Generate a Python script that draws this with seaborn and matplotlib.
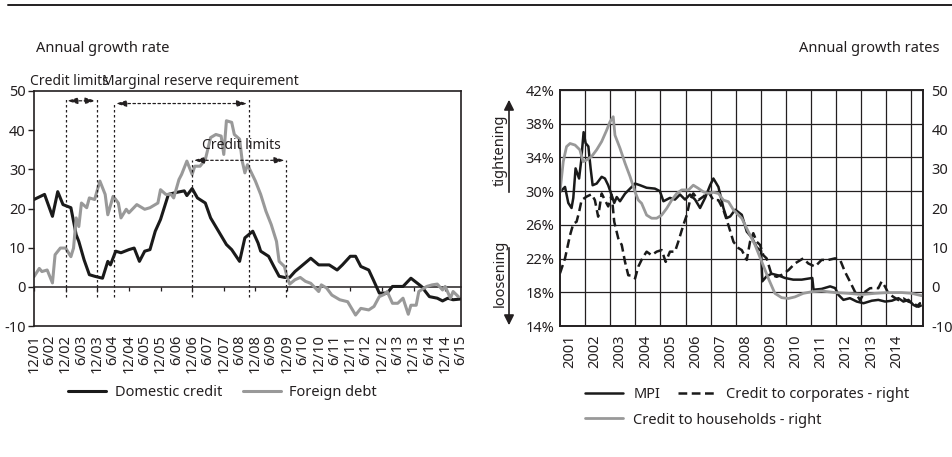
import matplotlib
matplotlib.use('Agg')
import matplotlib.pyplot as plt
from matplotlib.lines import Line2D
from matplotlib.patches import FancyArrowPatch
import seaborn as sns

# ---------------- left panel: months since Dec 2001, annual growth (%) ----------------
dc_month = [0, 4, 7, 9, 11, 14, 16, 17, 19, 21, 23, 26, 28, 29, 31, 33, 36, 38, 40, 42,
            44, 46, 48, 51, 54, 57, 58, 60, 62, 65, 67, 70, 73, 75, 78, 80, 83, 85, 86, 89,
            91, 93, 95, 97, 99, 102, 105, 108, 112, 115, 117, 120, 122, 124, 127, 129, 131,
            134, 136, 140, 143, 147, 150, 153, 155, 157, 159, 162]
dc_value = [22.3, 23.6, 18.0, 24.3, 21.0, 20.2, 13.3, 11.6, 6.9, 3.1, 2.7, 2.2, 6.5, 5.6,
            9.1, 8.7, 9.5, 9.9, 6.5, 9.1, 9.5, 14.2, 17.2, 23.6, 24.1, 24.5, 23.3, 25.1,
            22.7, 21.4, 17.6, 14.2, 10.8, 9.5, 6.5, 12.5, 14.2, 11.2, 9.1, 7.8, 5.2, 2.7,
            2.4, 2.4, 3.9, 5.6, 7.3, 5.6, 5.6, 4.3, 5.6, 7.8, 7.8, 5.2, 4.3, 1.4, -1.6,
            -1.6, 0.1, 0.1, 2.2, 0.1, -2.5, -2.9, -3.6, -2.9, -3.3, -3.1]

fd_month = [0, 2, 3, 5, 7, 8, 10, 12, 14, 15, 16, 17, 18, 20, 21, 23, 25, 27, 28, 30,
            31, 32, 33, 35, 36, 39, 42, 44, 47, 48, 50, 52, 53, 55, 56, 58, 60, 61, 63, 65,
            67, 69, 71, 72, 73, 75, 76, 78, 79, 80, 81, 84, 86, 88, 90, 92, 93, 95, 96, 97,
            99, 101, 103, 105, 108, 109, 111, 113, 116, 119, 122, 124, 127, 129, 131, 133,
            134, 136, 138, 140, 142, 143, 145, 146, 149, 151, 153, 155, 156, 158, 159, 161]
fd_value = [2.6, 4.7, 3.9, 4.3, 1.0, 8.2, 9.9, 9.9, 7.7, 9.9, 17.6, 15.4, 21.4, 20.2, 22.7,
            22.3, 27.0, 23.6, 18.4, 23.1, 22.3, 21.4, 17.6, 19.8, 18.9, 21.0, 19.8, 20.2,
            21.4, 24.8, 23.6, 23.6, 22.7, 27.4, 28.7, 32.1, 28.7, 30.8, 30.8, 32.5, 38.1,
            38.9, 38.5, 33.8, 42.4, 42.0, 38.9, 37.7, 32.1, 29.1, 31.2, 27.0, 23.6, 19.3,
            15.9, 11.6, 6.5, 5.2, 2.6, 0.7, 1.8, 2.4, 1.4, 0.9, -1.2, 0.5, -0.3, -2.1, -3.3,
            -3.8, -7.2, -5.5, -5.9, -5.0, -2.5, -1.9, -1.2, -4.2, -4.2, -2.9, -7.0, -4.7,
            -4.7, -1.2, 0.1, 0.5, 0.7, -0.8, 0.1, -2.9, -1.2, -2.5]

left_ticklabels = ['12/01', '6/02', '12/02', '6/03', '12/03', '6/04', '12/04', '6/05',
                   '12/05', '6/06', '12/06', '6/07', '12/07', '6/08', '12/08', '6/09',
                   '12/09', '6/10', '12/10', '6/11', '12/11', '6/12', '12/12', '6/13',
                   '12/13', '6/14', '12/14', '6/15']

# policy episodes (month index) and the annotation levels
policy_month = [12, 24, 30.5, 60, 81.5, 95.7]
policy_top = [48, 48, 47, 32.3, 48, 32.3]
arrow_spans = [(12, 24, 47.5), (30.5, 81.5, 46.8), (60, 95.7, 32.3)]

# ---------------- right panel: decimal years ----------------
mpi_year = [2001.0, 2001.2, 2001.33, 2001.46, 2001.53, 2001.62, 2001.76, 2001.84, 2001.94,
            2002.02, 2002.13, 2002.22, 2002.3, 2002.46, 2002.66, 2002.79, 2002.92, 2003.06,
            2003.16, 2003.26, 2003.39, 2003.59, 2003.79, 2003.99, 2004.19, 2004.45, 2004.78,
            2004.98, 2005.12, 2005.38, 2005.58, 2005.78, 2005.98, 2006.18, 2006.38, 2006.58,
            2006.78, 2006.98, 2007.11, 2007.31, 2007.51, 2007.64, 2007.78, 2007.98, 2008.24,
            2008.44, 2008.64, 2008.84, 2009.01, 2009.06, 2009.23, 2009.43, 2009.7, 2009.96,
            2010.29, 2010.63, 2011.05, 2011.1, 2011.42, 2011.76, 2011.96, 2012.09, 2012.29,
            2012.55, 2012.82, 2013.09, 2013.42, 2013.68, 2013.95, 2014.22, 2014.48, 2014.68,
            2014.88, 2015.08, 2015.21, 2015.34]
mpi_value = [29.9, 30.5, 28.6, 28.0, 29.2, 32.7, 31.5, 33.5, 37.0, 35.7, 35.3, 32.7, 30.7,
             30.9, 31.7, 31.5, 30.7, 29.5, 28.6, 29.3, 28.8, 29.7, 30.3, 30.9, 30.7, 30.4,
             30.3, 30.0, 28.8, 29.2, 29.0, 29.6, 29.0, 29.6, 29.0, 28.0, 29.2, 30.7, 31.5,
             30.5, 28.0, 26.8, 27.0, 27.8, 27.2, 25.2, 24.5, 23.3, 22.9, 19.3, 19.9, 20.2,
             20.0, 19.7, 19.5, 19.5, 19.7, 18.3, 18.4, 18.7, 18.5, 17.7, 17.1, 17.3, 16.9,
             16.7, 17.0, 17.1, 16.9, 17.0, 17.3, 16.9, 17.1, 16.5, 16.3, 16.7]

corp_year = [2001.0, 2001.2, 2001.4, 2001.53, 2001.66, 2001.76, 2001.86, 2002.06, 2002.26,
             2002.39, 2002.52, 2002.66, 2002.79, 2002.92, 2003.06, 2003.16, 2003.32, 2003.46,
             2003.59, 2003.72, 2003.86, 2003.99, 2004.12, 2004.28, 2004.45, 2004.65, 2004.85,
             2005.05, 2005.21, 2005.38, 2005.58, 2005.71, 2005.91, 2006.05, 2006.18, 2006.31,
             2006.51, 2006.71, 2006.91, 2007.11, 2007.31, 2007.51, 2007.71, 2007.91, 2008.11,
             2008.24, 2008.44, 2008.57, 2008.7, 2008.84, 2008.97, 2009.1, 2009.23, 2009.43,
             2009.63, 2009.83, 2010.1, 2010.36, 2010.69, 2010.89, 2011.16, 2011.42, 2011.69,
             2011.96, 2012.16, 2012.35, 2012.55, 2012.75, 2012.95, 2013.15, 2013.35, 2013.55,
             2013.68, 2013.81, 2013.95, 2014.08, 2014.28, 2014.48, 2014.68, 2014.88, 2015.08,
             2015.28, 2015.41]
corp_value = [3.4, 7.2, 13.1, 16.0, 16.5, 19.0, 22.0, 22.9, 23.5, 22.0, 17.8, 23.7, 22.0,
              20.4, 23.3, 16.5, 12.3, 10.6, 6.3, 2.9, 2.8, 2.1, 5.1, 7.2, 8.9, 8.0, 8.9,
              9.3, 6.3, 8.9, 8.9, 11.4, 15.6, 18.2, 22.0, 23.7, 22.0, 22.9, 24.1, 22.0,
              22.0, 19.5, 15.6, 11.4, 9.8, 9.3, 6.8, 11.4, 13.6, 11.4, 10.6, 8.0, 7.2, 3.0,
              2.5, 3.0, 4.2, 5.9, 7.2, 5.9, 5.1, 6.8, 6.8, 7.2, 6.8, 3.8, 1.3, -1.3, -3.4,
              -1.3, -0.4, -0.3, -0.4, 1.3, 0.0, -1.7, -2.6, -3.4, -3.0, -3.8, -4.2, -5.1, -4.7]

hh_year = [2001.0, 2001.13, 2001.26, 2001.4, 2001.6, 2001.79, 2001.92, 2002.06, 2002.26,
           2002.46, 2002.66, 2002.86, 2002.99, 2003.12, 2003.19, 2003.39, 2003.59, 2003.79,
           2003.99, 2004.12, 2004.25, 2004.45, 2004.65, 2004.85, 2005.05, 2005.25, 2005.45,
           2005.65, 2005.85, 2006.12, 2006.31, 2006.51, 2006.71, 2006.91, 2007.11, 2007.31,
           2007.51, 2007.71, 2007.91, 2008.24, 2008.5, 2008.77, 2009.04, 2009.3, 2009.56,
           2009.83, 2010.1, 2010.36, 2010.69, 2011.02, 2011.42, 2011.96, 2012.49, 2013.02,
           2013.55, 2014.08, 2014.61, 2015.01, 2015.41]
hh_value = [24.1, 31.8, 35.6, 36.4, 36.0, 34.8, 31.8, 32.2, 33.1, 34.8, 36.9, 39.8, 41.9,
            43.2, 38.5, 35.2, 31.4, 28.0, 24.1, 22.0, 21.2, 18.2, 17.4, 17.4, 18.2, 19.9,
            22.0, 23.7, 24.6, 24.6, 25.8, 25.0, 24.1, 23.7, 24.0, 23.7, 22.0, 21.6, 19.5,
            17.4, 14.0, 10.6, 6.3, 2.1, -1.7, -2.8, -3.0, -2.6, -1.7, -1.3, -1.1, -1.5,
            -1.7, -2.0, -1.7, -1.5, -1.5, -1.7, -2.3]

year_labels = list(range(2001, 2015))

# ---------------- styling ----------------
sns.set_theme(style='white')
plt.rcParams['font.family'] = ['Noto Sans', 'DejaVu Sans']
plt.rcParams['axes.unicode_minus'] = False
FS = 10.5
plt.rcParams['font.size'] = FS
ink = '#231f20'
plt.rcParams['text.color'] = ink
plt.rcParams['xtick.color'] = ink
plt.rcParams['ytick.color'] = ink
plt.rcParams['axes.edgecolor'] = ink

fig = plt.figure(figsize=(9.53, 4.57), dpi=100)
W, H = 953, 457
ax1 = fig.add_axes([34 / W, 1 - 326 / H, (461 - 34) / W, (326 - 91) / H])
ax2 = fig.add_axes([560 / W, 1 - 326 / H, (923 - 560) / W, (326 - 90) / H])

# top rule and panel titles
fig.add_artist(Line2D([8 / W, 1.0], [1 - 5 / H, 1 - 5 / H], color=ink, lw=1.4))
fig.text(36 / W, 1 - 48 / H, 'Annual growth rate', ha='left', va='center', fontsize=FS)
fig.text(940 / W, 1 - 48 / H, 'Annual growth rates', ha='right', va='center', fontsize=FS)

# ---------------- left panel ----------------
sns.lineplot(x=dc_month, y=dc_value, ax=ax1, color='#1a1a1a', lw=2.2, label='Domestic credit')
sns.lineplot(x=fd_month, y=fd_value, ax=ax1, color='#999999', lw=2.2, label='Foreign debt')

ax1.set_xlim(0, 162)
ax1.set_ylim(-10, 50)
ax1.set_yticks(range(-10, 51, 10))
ax1.set_xticks(range(0, 163, 6))
ax1.set_xticklabels(left_ticklabels, rotation=90)
ax1.tick_params(axis='y', length=4, width=1, direction='out', pad=2, labelsize=FS, left=True)
ax1.tick_params(axis='x', length=0, pad=6, labelsize=FS)
ax1.set_xlabel('')
ax1.set_ylabel('')
for sp in ax1.spines.values():
    sp.set_color(ink)
    sp.set_linewidth(1.2)

# zero line with yearly ticks
zero_ax = ax1.secondary_xaxis(1 / 6)
zero_ax.set_xticks(range(0, 163, 12))
zero_ax.tick_params(length=3, width=0.9, direction='out', labelbottom=False, labeltop=False)
for sp in zero_ax.spines.values():
    sp.set_color(ink)
    sp.set_linewidth(1.1)

ax1.vlines(policy_month, -2.5, policy_top, colors=ink, linestyles=(0, (2, 2)), lw=0.9)
for x0, x1, yv in arrow_spans:
    ax1.annotate('', xy=(x1, yv), xytext=(x0, yv),
                 arrowprops=dict(arrowstyle='<|-|>,head_length=0.6,head_width=0.18',
                                 color=ink, lw=0.9, linestyle=(0, (2, 2)),
                                 shrinkA=1, shrinkB=1))
ax1.text(13.5, 52.3, 'Credit limits', ha='center', va='center', clip_on=False, fontsize=10)
ax1.text(63, 52.3, 'Marginal reserve requirement', ha='center', va='center', clip_on=False,
         fontsize=10)
ax1.text(78.6, 36.2, 'Credit limits', ha='center', va='center', fontsize=10)

ax1.legend(loc='center left', bbox_to_anchor=(55 / W, 1 - 393 / H), bbox_transform=fig.transFigure,
           ncol=2, frameon=False, handlelength=2.6, handletextpad=0.6, columnspacing=1.4,
           fontsize=FS)

# ---------------- right panel ----------------
ax2r = ax2.twinx()
sns.lineplot(x=mpi_year, y=mpi_value, ax=ax2, color='#1a1a1a', lw=1.8, label='MPI')
sns.lineplot(x=corp_year, y=corp_value, ax=ax2r, color='#1a1a1a', lw=1.8,
             linestyle=(0, (3.5, 1.8)), label='Credit to corporates - right')
sns.lineplot(x=hh_year, y=hh_value, ax=ax2r, color='#999999', lw=2.0,
             label='Credit to households - right')

ax2.set_xlim(2001, 2015.46)
ax2.set_ylim(14, 42)
ax2.set_yticks(range(14, 43, 4))
ax2.set_yticklabels([f'{v}%' for v in range(14, 43, 4)])
ax2.set_xticks([y + 0.4 for y in year_labels])
ax2.set_xticklabels([str(y) for y in year_labels], rotation=90)
ax2.set_xticks(range(2002, 2016), minor=True)
ax2.grid(which='minor', axis='x', color=ink, lw=0.9)
ax2.grid(which='major', axis='y', color=ink, lw=0.9)
ax2.tick_params(which='both', length=0, labelsize=FS)
ax2.tick_params(axis='y', pad=4)
ax2.tick_params(axis='x', pad=6)
ax2.set_xlabel('')
ax2.set_ylabel('')

ax2r.set_ylim(-10, 50)
ax2r.set_yticks(range(-10, 51, 10))
ax2r.tick_params(length=0, pad=6, labelsize=FS)
ax2r.set_ylabel('')
for a in (ax2, ax2r):
    for sp in a.spines.values():
        sp.set_color(ink)
        sp.set_linewidth(1.2)

# tightening / loosening arrows
fig.add_artist(FancyArrowPatch(
    (509 / W, 1 - 195 / H), (509 / W, 1 - 97 / H), transform=fig.transFigure,
    arrowstyle='-|>,head_length=6,head_width=3', color=ink, lw=1.2))
fig.add_artist(FancyArrowPatch(
    (509 / W, 1 - 245 / H), (509 / W, 1 - 328 / H), transform=fig.transFigure,
    arrowstyle='-|>,head_length=6,head_width=3', color=ink, lw=1.2))
fig.text(500 / W, 1 - 150 / H, 'tightening', rotation=90, ha='center', va='center', fontsize=FS)
fig.text(500 / W, 1 - 273 / H, 'loosening', rotation=90, ha='center', va='center', fontsize=FS)

h_mpi, l_mpi = ax2.get_legend_handles_labels()
h_r, l_r = ax2r.get_legend_handles_labels()
ax2.get_legend().remove()
ax2r.get_legend().remove()
fig.legend([h_mpi[0], h_r[0]], [l_mpi[0], l_r[0]], loc='center left',
           bbox_to_anchor=(572 / W, 1 - 395 / H), ncol=2, frameon=False,
           handlelength=2.6, handletextpad=0.7, columnspacing=1.2, fontsize=FS)
fig.legend([h_r[1]], [l_r[1]], loc='center left',
           bbox_to_anchor=(572 / W, 1 - 420 / H), frameon=False,
           handlelength=2.6, handletextpad=0.7, fontsize=FS)

fig.savefig('out.png', dpi=100)
